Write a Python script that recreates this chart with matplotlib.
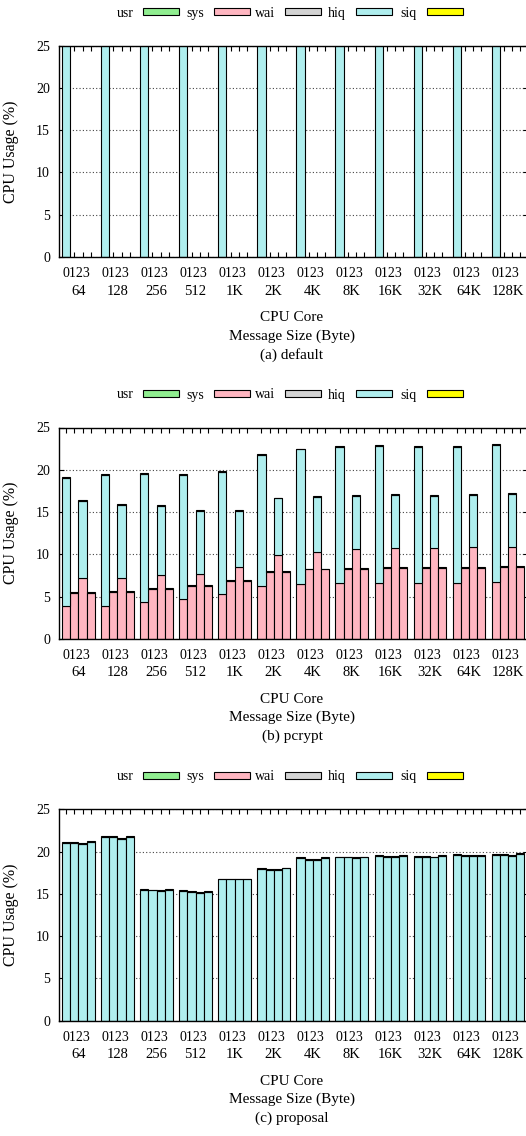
import matplotlib.pyplot as plt
import matplotlib.patches as mpatches
import numpy as np

# 폰트 설정 (Times 계열)
plt.rcParams['font.family'] = ['Liberation Serif', 'DejaVu Serif']
plt.rcParams['font.size'] = 10

sizes = ['64', '128', '256', '512', '1K', '2K', '4K', '8K', '16K', '32K', '64K', '128K']
core_label = '0123'
series = ['usr', 'sys', 'wai', 'hiq', 'siq']
colors = ['#90ee90', '#ffb6c1', '#d3d3d3', '#afeeee', '#ffff00']

# (a) default : core 0 만 사용, 25% 이상은 잘림
default_hiq = [
    [40, 0, 0, 0], [40, 0, 0, 0], [40, 0, 0, 0], [40, 0, 0, 0],
    [40, 0, 0, 0], [40, 0, 0, 0], [40, 0, 0, 0], [40, 0, 0, 0],
    [40, 0, 0, 0], [40, 0, 0, 0], [40, 0, 0, 0], [40, 0, 0, 0],
]

# (b) pcrypt
pcrypt_sys = [
    [3.9, 5.4, 7.2, 5.4], [3.9, 5.5, 7.2, 5.5], [4.3, 5.9, 7.6, 5.9],
    [4.7, 6.3, 7.7, 6.3], [5.3, 6.8, 8.5, 6.8], [6.2, 7.9, 9.9, 7.9],
    [6.5, 8.2, 10.3, 8.2], [6.6, 8.3, 10.6, 8.3], [6.6, 8.4, 10.8, 8.4],
    [6.6, 8.4, 10.8, 8.4], [6.6, 8.4, 10.9, 8.4], [6.7, 8.5, 10.9, 8.5],
]
pcrypt_hiq = [
    [15.1, 0, 9.1, 0], [15.5, 0, 8.6, 0], [15.2, 0, 8.1, 0],
    [14.7, 0, 7.4, 0], [14.4, 0, 6.6, 0], [15.6, 0, 6.7, 0],
    [15.9, 0, 6.5, 0], [16.1, 0, 6.3, 0], [16.2, 0, 6.2, 0],
    [16.1, 0, 6.1, 0], [16.1, 0, 6.1, 0], [16.2, 0, 6.2, 0],
]
pcrypt_siq = [
    [0.1, 0.1, 0.1, 0.1], [0.1, 0.1, 0.1, 0.1], [0.1, 0.1, 0.1, 0.1],
    [0.1, 0.1, 0.1, 0.1], [0.1, 0.1, 0.1, 0.1], [0.1, 0.1, 0.1, 0.1],
    [0.1, 0.1, 0.1, 0.1], [0.1, 0.1, 0.1, 0.1], [0.1, 0.1, 0.1, 0.1],
    [0.1, 0.1, 0.1, 0.1], [0.1, 0.1, 0.1, 0.1], [0.1, 0.1, 0.1, 0.1],
]

# (c) proposal
proposal_hiq = [
    [21.0, 21.0, 20.9, 21.1], [21.7, 21.7, 21.5, 21.7], [15.5, 15.4, 15.3, 15.5],
    [15.3, 15.2, 15.1, 15.2], [16.7, 16.7, 16.7, 16.7], [17.95, 17.85, 17.8, 18.0],
    [19.2, 19.0, 19.0, 19.2], [19.3, 19.3, 19.2, 19.3], [19.5, 19.4, 19.4, 19.5],
    [19.4, 19.4, 19.3, 19.5], [19.6, 19.5, 19.5, 19.5], [19.6, 19.6, 19.5, 19.7],
]
proposal_siq = pcrypt_siq

empty = np.zeros((12, 4))
panels = [
    ('(a) default', {'usr': empty, 'sys': empty, 'wai': empty, 'hiq': default_hiq, 'siq': empty}),
    ('(b) pcrypt', {'usr': empty, 'sys': pcrypt_sys, 'wai': empty, 'hiq': pcrypt_hiq, 'siq': pcrypt_siq}),
    ('(c) proposal', {'usr': empty, 'sys': empty, 'wai': empty, 'hiq': proposal_hiq, 'siq': proposal_siq}),
]

W, H = 526, 1136
step = 4.83
ax_left, ax_right = 59, 527.5
tops = [45.7, 427.5, 809.3]
ax_h = 211.3


def fx(px):
    return px / W


def fy(py):
    return 1 - py / H


fig = plt.figure(figsize=(W / 100, H / 100), dpi=100)

x = np.array([g * step + i + 0.5 for g in range(len(sizes)) for i in range(4)])
group_c = np.array([g * step + 2 for g in range(len(sizes))])

for k, (caption, data) in enumerate(panels):
    top = tops[k]
    bot = top + ax_h
    ax = fig.add_axes([fx(ax_left), fy(bot), fx(ax_right) - fx(ax_left), ax_h / H])

    # 누적 막대
    bottom = np.zeros(len(x))
    for name, col in zip(series, colors):
        vals = np.array(data[name], dtype=float).ravel()
        m = vals > 0
        if m.any():
            ax.bar(x[m], vals[m], width=1, bottom=bottom[m], color=col,
                   edgecolor='black', linewidth=0.8)
        bottom += vals

    ax.set_xlim(-0.41, (ax_right - 62.3) / 8.08)
    ax.set_ylim(0, 25)
    ax.set_yticks(range(0, 26, 5))
    ax.set_xticks(x)
    ax.tick_params(axis='x', direction='in', top=True, bottom=True,
                   length=3.6, width=0.8, labelbottom=False)
    ax.tick_params(axis='y', direction='in', left=True, right=True,
                   length=3.6, width=0.8, pad=6.5, labelsize=10)
    ax.yaxis.grid(True, linestyle=(0, (1, 2)), color='#444444', linewidth=0.8)
    ax.set_axisbelow(True)
    for sp in ax.spines.values():
        sp.set_linewidth(1.0)

    # x 라벨 (코어 번호 + 메시지 크기)
    for g, s in enumerate(sizes):
        ax.annotate(core_label, xy=(group_c[g], 0), xycoords=('data', 'axes fraction'),
                    xytext=(-2.5, -20), textcoords='offset pixels',
                    ha='center', va='baseline', fontsize=10)
        ax.annotate(s, xy=(group_c[g], 0), xycoords=('data', 'axes fraction'),
                    xytext=(0, -37.5), textcoords='offset pixels',
                    ha='center', va='baseline', fontsize=10.5)

    cx = fx(292)
    fig.text(cx, fy(bot + 64), 'CPU Core', ha='center', va='baseline', fontsize=11)
    fig.text(cx, fy(bot + 82.5), 'Message Size (Byte)', ha='center', va='baseline', fontsize=11)
    fig.text(cx, fy(bot + 101.5), caption, ha='center', va='baseline', fontsize=11)
    fig.text(fx(11.5), fy(top + ax_h / 2), 'CPU Usage (%)', rotation=90,
             ha='center', va='center', fontsize=11.5)

    # 범례 (라벨 뒤에 색상 박스)
    ly = top - 34
    for j, (name, col) in enumerate(zip(series, colors)):
        bx = 143.3 + 70.9 * j
        fig.patches.append(mpatches.Rectangle((fx(bx), fy(ly + 3.4)), 36 / W, 6.8 / H,
                                              transform=fig.transFigure, facecolor=col,
                                              edgecolor='black', linewidth=0.8))
        fig.text(fx(bx - 10), fy(ly + 5), name, ha='right', va='baseline', fontsize=10)

plt.savefig('out.png', dpi=100)
